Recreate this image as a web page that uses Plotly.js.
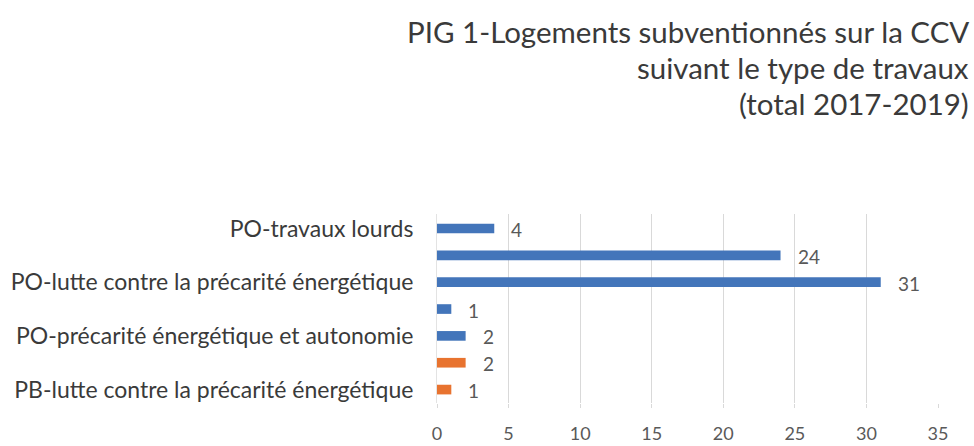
<!DOCTYPE html>
<html>
<head>
<meta charset="utf-8">
<script src="https://cdn.plot.ly/plotly-3.0.1.min.js"></script>
<style>html,body{margin:0;padding:0;background:#fff;}#chart{width:974px;height:446px;}</style>
</head>
<body>
<div id="chart"></div>
<script>
// Data
const categories = [
  "PO-travaux lourds",
  "PO-autonomie",
  "PO-lutte contre la précarité énergétique",
  "PO-travaux lourds et autonomie",
  "PO-précarité énergétique et autonomie",
  "PB-travaux lourds",
  "PB-lutte contre la précarité énergétique"
];
const values = [4, 24, 31, 1, 2, 2, 1];
// Only every other category label is displayed in the original
const shownLabels = [
  "PO-travaux lourds",
  "PO-lutte contre la précarité énergétique",
  "PO-précarité énergétique et autonomie",
  "PB-lutte contre la précarité énergétique"
];
const xTicks = [0, 5, 10, 15, 20, 25, 30, 35];
const titleLines = [
  "PIG 1-Logements subventionnés sur la CCV",
  "suivant le type de travaux",
  "(total 2017-2019)"
];

const BLUE = "#4375BA";
const ORANGE = "#E8732F";
const barColors = categories.map(c => c.startsWith("PB") ? ORANGE : BLUE);
const FONT = "Lato, 'Open Sans', sans-serif";

const trace = {
  type: "bar",
  orientation: "h",
  y: categories,
  x: values,
  marker: {color: barColors},
  width: 0.36,
  hoverinfo: "x+y"
};

const annotations = categories.map((c, i) => ({
  x: values[i], y: c, xref: "x", yref: "y",
  text: String(values[i]), showarrow: false,
  xanchor: "left", xshift: 15, yshift: -1,
  font: {family: FONT, size: 19, color: "#595959"}
}));

// Title lines, right aligned, placed one by one for tight line spacing
const plotTop = 214, plotBottom = 403;
const titleCenters = [31, 67, 103];
titleLines.forEach((t, i) => {
  annotations.push({
    text: t, showarrow: false,
    xref: "paper", x: (971 - 437) / (938 - 437), xanchor: "right",
    yref: "paper", y: (plotBottom - titleCenters[i]) / (plotBottom - plotTop), yanchor: "middle",
    font: {family: FONT, size: 29.5, color: "#3A3A3A"}
  });
});

const layout = {
  width: 974, height: 446,
  margin: {l: 437, r: 36, t: plotTop, b: 446 - plotBottom},
  paper_bgcolor: "#fff", plot_bgcolor: "#fff",
  font: {family: FONT, color: "#595959"},
  showlegend: false,
  xaxis: {
    range: [0, 35], tickvals: xTicks, ticktext: xTicks.map(String),
    showgrid: true, gridcolor: "#D9D9D9", gridwidth: 1,
    zeroline: false, showline: false,
    ticks: "outside", ticklen: 4, tickcolor: "#D9D9D9",
    ticklabelstandoff: 10,
    tickfont: {family: FONT, size: 18, color: "#595959"}
  },
  yaxis: {
    type: "category", autorange: "reversed",
    tickmode: "array", tickvals: shownLabels, ticktext: shownLabels,
    showgrid: false, zeroline: false, showline: true, linecolor: "#E3E3E3",
    ticks: "", ticklabelstandoff: 18,
    tickfont: {family: FONT, size: 23, color: "#3A3A3A"}
  },
  annotations: annotations
};

Plotly.newPlot("chart", [trace], layout, {displayModeBar: false, staticPlot: true});
</script>
</body>
</html>
